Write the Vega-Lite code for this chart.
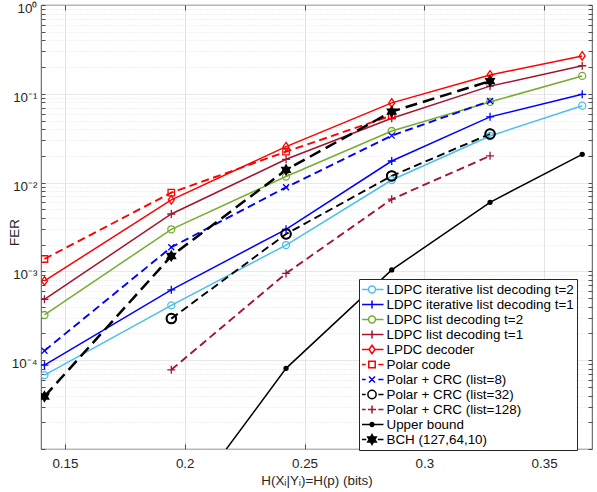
{
  "$schema": "https://vega.github.io/schema/vega-lite/v6.json",
  "width": 551,
  "height": 444,
  "autosize": {"type": "none"},
  "padding": {"left": 41, "top": 5, "right": 5, "bottom": 43},
  "config": {
    "view": {"stroke": "#262626", "strokeWidth": 0.8},
    "font": "Liberation Sans",
    "axis": {
      "labelFont": "Liberation Sans",
      "titleFont": "Liberation Sans",
      "labelFontSize": 13.4,
      "titleFontSize": 13.4,
      "titleFontWeight": "normal",
      "labelColor": "#262626",
      "titleColor": "#262626",
      "tickColor": "#262626",
      "tickWidth": 0.8,
      "domain": false
    }
  },
  "data": {
    "values": [
      {"series": "LDPC iterative list decoding t=2", "h": 0.14144, "fer": 0.000068},
      {"series": "LDPC iterative list decoding t=2", "h": 0.19439, "fer": 0.000415},
      {"series": "LDPC iterative list decoding t=2", "h": 0.24229, "fer": 0.00198},
      {"series": "LDPC iterative list decoding t=2", "h": 0.2864, "fer": 0.0107},
      {"series": "LDPC iterative list decoding t=2", "h": 0.32744, "fer": 0.0335},
      {"series": "LDPC iterative list decoding t=2", "h": 0.36592, "fer": 0.0735},
      {"series": "LDPC iterative list decoding t=1", "h": 0.14144, "fer": 0.000088},
      {"series": "LDPC iterative list decoding t=1", "h": 0.19439, "fer": 0.00062},
      {"series": "LDPC iterative list decoding t=1", "h": 0.24229, "fer": 0.00298},
      {"series": "LDPC iterative list decoding t=1", "h": 0.2864, "fer": 0.0175},
      {"series": "LDPC iterative list decoding t=1", "h": 0.32744, "fer": 0.055},
      {"series": "LDPC iterative list decoding t=1", "h": 0.36592, "fer": 0.0987},
      {"series": "LDPC list decoding t=2", "h": 0.14144, "fer": 0.000323},
      {"series": "LDPC list decoding t=2", "h": 0.19439, "fer": 0.00298},
      {"series": "LDPC list decoding t=2", "h": 0.24229, "fer": 0.0117},
      {"series": "LDPC list decoding t=2", "h": 0.2864, "fer": 0.0381},
      {"series": "LDPC list decoding t=2", "h": 0.32744, "fer": 0.081},
      {"series": "LDPC list decoding t=2", "h": 0.36592, "fer": 0.159},
      {"series": "LDPC list decoding t=1", "h": 0.14144, "fer": 0.000485},
      {"series": "LDPC list decoding t=1", "h": 0.19439, "fer": 0.00443},
      {"series": "LDPC list decoding t=1", "h": 0.24229, "fer": 0.0183},
      {"series": "LDPC list decoding t=1", "h": 0.2864, "fer": 0.053},
      {"series": "LDPC list decoding t=1", "h": 0.32744, "fer": 0.122},
      {"series": "LDPC list decoding t=1", "h": 0.36592, "fer": 0.207},
      {"series": "LPDC decoder", "h": 0.14144, "fer": 0.00078},
      {"series": "LPDC decoder", "h": 0.19439, "fer": 0.0064},
      {"series": "LPDC decoder", "h": 0.24229, "fer": 0.0254},
      {"series": "LPDC decoder", "h": 0.2864, "fer": 0.079},
      {"series": "LPDC decoder", "h": 0.32744, "fer": 0.163},
      {"series": "LPDC decoder", "h": 0.36592, "fer": 0.267},
      {"series": "Polar code", "h": 0.14144, "fer": 0.00138},
      {"series": "Polar code", "h": 0.19439, "fer": 0.0077},
      {"series": "Polar code", "h": 0.24229, "fer": 0.0223},
      {"series": "Polar code", "h": 0.2864, "fer": 0.057},
      {"series": "Polar + CRC (list=8)", "h": 0.14144, "fer": 0.000128},
      {"series": "Polar + CRC (list=8)", "h": 0.19439, "fer": 0.00187},
      {"series": "Polar + CRC (list=8)", "h": 0.24229, "fer": 0.00885},
      {"series": "Polar + CRC (list=8)", "h": 0.2864, "fer": 0.0338},
      {"series": "Polar + CRC (list=8)", "h": 0.32744, "fer": 0.083},
      {"series": "Polar + CRC (list=32)", "h": 0.19439, "fer": 0.000294},
      {"series": "Polar + CRC (list=32)", "h": 0.24229, "fer": 0.00264},
      {"series": "Polar + CRC (list=32)", "h": 0.2864, "fer": 0.0119},
      {"series": "Polar + CRC (list=32)", "h": 0.32744, "fer": 0.0353},
      {"series": "Polar + CRC (list=128)", "h": 0.19439, "fer": 0.000078},
      {"series": "Polar + CRC (list=128)", "h": 0.24229, "fer": 0.00095},
      {"series": "Polar + CRC (list=128)", "h": 0.2864, "fer": 0.0065},
      {"series": "Polar + CRC (list=128)", "h": 0.32744, "fer": 0.02},
      {"series": "Upper bound", "h": 0.19439, "fer": 0.00000145},
      {"series": "Upper bound", "h": 0.24229, "fer": 0.000081},
      {"series": "Upper bound", "h": 0.2864, "fer": 0.00104},
      {"series": "Upper bound", "h": 0.32744, "fer": 0.006},
      {"series": "Upper bound", "h": 0.36592, "fer": 0.0208},
      {"series": "BCH (127,64,10)", "h": 0.14144, "fer": 0.000039},
      {"series": "BCH (127,64,10)", "h": 0.19439, "fer": 0.00149},
      {"series": "BCH (127,64,10)", "h": 0.24229, "fer": 0.0139},
      {"series": "BCH (127,64,10)", "h": 0.2864, "fer": 0.063},
      {"series": "BCH (127,64,10)", "h": 0.32744, "fer": 0.139}
    ]
  },
  "layer": [
    {
      "transform": [{"filter": {"field": "series", "oneOf": ["LDPC iterative list decoding t=2", "LDPC iterative list decoding t=1", "LDPC list decoding t=2", "LDPC list decoding t=1", "LPDC decoder", "Upper bound"]}}],
      "mark": {"type": "line", "clip": true, "strokeWidth": 1.5},
      "encoding": {
        "x": {
          "field": "h", "type": "quantitative",
          "scale": {"domain": [0.14, 0.37], "nice": false, "zero": false},
          "axis": {
            "orient": "bottom",
            "values": [0.15, 0.2, 0.25, 0.3, 0.35],
            "format": ".2~f",
            "labelFlush": false,
            "tickSize": -5,
            "labelPadding": 12,
            "grid": true,
            "gridColor": "#dcdcdc",
            "gridWidth": 0.8,
            "title": "H(Xᵢ|Yᵢ)=H(p) (bits)"
          }
        },
        "y": {
          "field": "fer", "type": "quantitative",
          "scale": {"type": "log", "domain": [0.00001, 1], "nice": false},
          "axis": {
            "orient": "left",
            "values": [0.00001, 0.00002, 0.00003, 0.00004, 0.00005, 0.00006, 0.00007, 0.00008, 0.00009, 0.0001, 0.0002, 0.0003, 0.0004, 0.0005, 0.0006, 0.0007, 0.0008, 0.0009, 0.001, 0.002, 0.003, 0.004, 0.005, 0.006, 0.007, 0.008, 0.009, 0.01, 0.02, 0.03, 0.04, 0.05, 0.06, 0.07, 0.08, 0.09, 0.1, 0.2, 0.3, 0.4, 0.5, 0.6, 0.7, 0.8, 0.9, 1],
            "labelExpr": "datum.value == 1 ? '10⁰' : datum.value == 0.1 ? '10⁻¹' : datum.value == 0.01 ? '10⁻²' : datum.value == 0.001 ? '10⁻³' : datum.value == 0.0001 ? '10⁻⁴' : ''",
            "labelOverlap": false,
            "labelOffset": 3.5,
            "tickSize": -4,
            "labelPadding": 8,
            "grid": true,
            "gridColor": "#dcdcdc",
            "gridWidth": 0.8,
            "gridDash": {"condition": {"test": "indexof([1, 0.1, 0.01, 0.001, 0.0001, 0.00001], datum.value) >= 0", "value": [1, 0]}, "value": [1, 2]},
            "title": "FER",
            "titleX": -34,
            "titleY": 227,
            "titleAngle": -90,
            "titleBaseline": "top",
            "titleAlign": "center"
          }
        },
        "stroke": {
          "field": "series", "type": "nominal", "legend": null,
          "scale": {
            "domain": ["LDPC iterative list decoding t=2", "LDPC iterative list decoding t=1", "LDPC list decoding t=2", "LDPC list decoding t=1", "LPDC decoder", "Polar code", "Polar + CRC (list=8)", "Polar + CRC (list=32)", "Polar + CRC (list=128)", "Upper bound", "BCH (127,64,10)"],
            "range": ["#4DBEEE", "#0000FF", "#77AC30", "#A2142F", "#FF0000", "#FF0000", "#0000FF", "#000000", "#A2142F", "#000000", "#000000"]
          }
        }
      }
    },
    {
      "transform": [{"filter": {"field": "series", "oneOf": ["Polar code", "Polar + CRC (list=8)", "Polar + CRC (list=32)", "Polar + CRC (list=128)"]}}],
      "mark": {"type": "line", "clip": true, "strokeWidth": 1.9, "strokeDash": [8, 4.5]},
      "encoding": {
        "x": {"field": "h", "type": "quantitative", "axis": null},
        "y": {"field": "fer", "type": "quantitative", "axis": null},
        "stroke": {
          "field": "series", "type": "nominal", "legend": null,
          "scale": {
            "domain": ["LDPC iterative list decoding t=2", "LDPC iterative list decoding t=1", "LDPC list decoding t=2", "LDPC list decoding t=1", "LPDC decoder", "Polar code", "Polar + CRC (list=8)", "Polar + CRC (list=32)", "Polar + CRC (list=128)", "Upper bound", "BCH (127,64,10)"],
            "range": ["#4DBEEE", "#0000FF", "#77AC30", "#A2142F", "#FF0000", "#FF0000", "#0000FF", "#000000", "#A2142F", "#000000", "#000000"]
          }
        }
      }
    },
    {
      "transform": [{"filter": "datum.series == 'BCH (127,64,10)'"}],
      "mark": {"type": "line", "clip": true, "stroke": "#000000", "strokeWidth": 2.5, "strokeDash": [12, 6]},
      "encoding": {
        "x": {"field": "h", "type": "quantitative", "axis": null},
        "y": {"field": "fer", "type": "quantitative", "axis": null}
      }
    },
    {
      "mark": {"type": "point", "clip": true, "size": 100, "strokeWidth": 1.3, "opacity": 1},
      "encoding": {
        "x": {
          "field": "h", "type": "quantitative",
          "axis": {"orient": "top", "values": [0.15, 0.2, 0.25, 0.3, 0.35], "labels": false, "tickSize": -5, "grid": false, "title": null}
        },
        "y": {
          "field": "fer", "type": "quantitative",
          "axis": {
            "orient": "right",
            "values": [0.00001, 0.00002, 0.00003, 0.00004, 0.00005, 0.00006, 0.00007, 0.00008, 0.00009, 0.0001, 0.0002, 0.0003, 0.0004, 0.0005, 0.0006, 0.0007, 0.0008, 0.0009, 0.001, 0.002, 0.003, 0.004, 0.005, 0.006, 0.007, 0.008, 0.009, 0.01, 0.02, 0.03, 0.04, 0.05, 0.06, 0.07, 0.08, 0.09, 0.1, 0.2, 0.3, 0.4, 0.5, 0.6, 0.7, 0.8, 0.9, 1],
            "labels": false, "tickSize": -4, "grid": false, "title": null
          }
        },
        "shape": {
          "field": "series", "type": "nominal", "legend": null,
          "scale": {
            "domain": ["LDPC iterative list decoding t=2", "LDPC iterative list decoding t=1", "LDPC list decoding t=2", "LDPC list decoding t=1", "LPDC decoder", "Polar code", "Polar + CRC (list=8)", "Polar + CRC (list=32)", "Polar + CRC (list=128)", "Upper bound", "BCH (127,64,10)"],
            "range": [
              "M0.7,0A0.7,0.7,0,1,1,-0.7,0A0.7,0.7,0,1,1,0.7,0Z",
              "M-0.8,0H0.8M0,-0.8V0.8",
              "M0.7,0A0.7,0.7,0,1,1,-0.7,0A0.7,0.7,0,1,1,0.7,0Z",
              "M-0.8,0H0.8M0,-0.8V0.8",
              "M0,-0.85L0.6,0L0,0.85L-0.6,0Z",
              "M-0.65,-0.65H0.65V0.65H-0.65Z",
              "M-0.6,-0.6L0.6,0.6M-0.6,0.6L0.6,-0.6",
              "M0.95,0A0.95,0.95,0,1,1,-0.95,0A0.95,0.95,0,1,1,0.95,0Z",
              "M-0.8,0H0.8M0,-0.8V0.8",
              "M0.4,0A0.4,0.4,0,1,1,-0.4,0A0.4,0.4,0,1,1,0.4,0Z",
              "M0,-1L0.289,-0.5L0.866,-0.5L0.577,0L0.866,0.5L0.289,0.5L0,1L-0.289,0.5L-0.866,0.5L-0.577,0L-0.866,-0.5L-0.289,-0.5Z"
            ]
          }
        },
        "stroke": {
          "field": "series", "type": "nominal", "legend": null,
          "scale": {
            "domain": ["LDPC iterative list decoding t=2", "LDPC iterative list decoding t=1", "LDPC list decoding t=2", "LDPC list decoding t=1", "LPDC decoder", "Polar code", "Polar + CRC (list=8)", "Polar + CRC (list=32)", "Polar + CRC (list=128)", "Upper bound", "BCH (127,64,10)"],
            "range": ["#4DBEEE", "#0000FF", "#77AC30", "#A2142F", "#FF0000", "#FF0000", "#0000FF", "#000000", "#A2142F", "#000000", "#000000"]
          }
        },
        "fill": {
          "field": "series", "type": "nominal", "legend": null,
          "scale": {
            "domain": ["LDPC iterative list decoding t=2", "LDPC iterative list decoding t=1", "LDPC list decoding t=2", "LDPC list decoding t=1", "LPDC decoder", "Polar code", "Polar + CRC (list=8)", "Polar + CRC (list=32)", "Polar + CRC (list=128)", "Upper bound", "BCH (127,64,10)"],
            "range": ["transparent", "transparent", "transparent", "transparent", "transparent", "transparent", "transparent", "transparent", "transparent", "#000000", "#000000"]
          }
        }
      }
    },
    {
      "transform": [{"filter": "datum.series == 'Polar + CRC (list=32)'"}],
      "mark": {"type": "point", "clip": true, "size": 100, "strokeWidth": 2, "stroke": "#000000", "fill": "transparent", "shape": "M0.95,0A0.95,0.95,0,1,1,-0.95,0A0.95,0.95,0,1,1,0.95,0Z", "opacity": 1},
      "encoding": {
        "x": {"field": "h", "type": "quantitative", "axis": null},
        "y": {"field": "fer", "type": "quantitative", "axis": null}
      }
    },
    {
      "mark": {"type": "point", "clip": true, "size": 529, "strokeWidth": 1.5, "opacity": 0},
      "encoding": {
        "x": {"field": "h", "type": "quantitative", "axis": null},
        "y": {"field": "fer", "type": "quantitative", "axis": null},
        "shape": {
          "field": "series", "type": "nominal",
          "legend": {"orient": "none", "legendX": 318, "legendY": 274, "direction": "vertical", "title": null, "padding": 3, "rowPadding": 0, "clipHeight": 15.0, "symbolOffset": -2.5, "labelOffset": 2, "labelFont": "Liberation Sans", "labelFontSize": 13.4, "labelColor": "#000000", "labelLimit": 400, "fillColor": "#ffffff", "strokeColor": "#262626", "symbolSize": 529, "symbolStrokeWidth": 1.5, "symbolOpacity": 1},
          "scale": {
            "domain": ["LDPC iterative list decoding t=2", "LDPC iterative list decoding t=1", "LDPC list decoding t=2", "LDPC list decoding t=1", "LPDC decoder", "Polar code", "Polar + CRC (list=8)", "Polar + CRC (list=32)", "Polar + CRC (list=128)", "Upper bound", "BCH (127,64,10)"],
            "range": [
              "M-1,0H-0.3M0.3,0H1M0.3,0A0.3,0.3,0,1,1,-0.3,0A0.3,0.3,0,1,1,0.3,0Z",
              "M-1,0H1M0,-0.35V0.35",
              "M-1,0H-0.3M0.3,0H1M0.3,0A0.3,0.3,0,1,1,-0.3,0A0.3,0.3,0,1,1,0.3,0Z",
              "M-1,0H1M0,-0.35V0.35",
              "M-1,0H-0.26M0.26,0H1M0,-0.37L0.26,0L0,0.37L-0.26,0Z",
              "M-1,0H-0.55M0.55,0H1M-0.28,-0.28H0.28V0.28H-0.28Z",
              "M-1,0H-0.55M0.55,0H1M-0.26,-0.26L0.26,0.26M-0.26,0.26L0.26,-0.26",
              "M-1,0H-0.55M0.55,0H1M0.36,0A0.36,0.36,0,1,1,-0.36,0A0.36,0.36,0,1,1,0.36,0Z",
              "M-1,0H-0.55M-0.35,0H0.35M0.55,0H1M0,-0.35V0.35",
              "M-1,0H1M0.17,0A0.17,0.17,0,1,1,-0.17,0A0.17,0.17,0,1,1,0.17,0Z",
              "M-1,0H-0.5M0.5,0H1M0,-0.43L0.125,-0.215L0.372,-0.215L0.248,0L0.372,0.215L0.125,0.215L0,0.43L-0.125,0.215L-0.372,0.215L-0.248,0L-0.372,-0.215L-0.125,-0.215Z"
            ]
          }
        },
        "stroke": {
          "field": "series", "type": "nominal",
          "legend": {"orient": "none", "legendX": 318, "legendY": 274, "direction": "vertical", "title": null, "padding": 3, "rowPadding": 0, "clipHeight": 15.0, "symbolOffset": -2.5, "labelOffset": 2, "labelFont": "Liberation Sans", "labelFontSize": 13.4, "labelColor": "#000000", "labelLimit": 400, "fillColor": "#ffffff", "strokeColor": "#262626", "symbolSize": 529, "symbolStrokeWidth": 1.5, "symbolOpacity": 1},
          "scale": {
            "domain": ["LDPC iterative list decoding t=2", "LDPC iterative list decoding t=1", "LDPC list decoding t=2", "LDPC list decoding t=1", "LPDC decoder", "Polar code", "Polar + CRC (list=8)", "Polar + CRC (list=32)", "Polar + CRC (list=128)", "Upper bound", "BCH (127,64,10)"],
            "range": ["#4DBEEE", "#0000FF", "#77AC30", "#A2142F", "#FF0000", "#FF0000", "#0000FF", "#000000", "#A2142F", "#000000", "#000000"]
          }
        },
        "fill": {
          "field": "series", "type": "nominal",
          "legend": {"orient": "none", "legendX": 318, "legendY": 274, "direction": "vertical", "title": null, "padding": 3, "rowPadding": 0, "clipHeight": 15.0, "symbolOffset": -2.5, "labelOffset": 2, "labelFont": "Liberation Sans", "labelFontSize": 13.4, "labelColor": "#000000", "labelLimit": 400, "fillColor": "#ffffff", "strokeColor": "#262626", "symbolSize": 529, "symbolStrokeWidth": 1.5, "symbolOpacity": 1},
          "scale": {
            "domain": ["LDPC iterative list decoding t=2", "LDPC iterative list decoding t=1", "LDPC list decoding t=2", "LDPC list decoding t=1", "LPDC decoder", "Polar code", "Polar + CRC (list=8)", "Polar + CRC (list=32)", "Polar + CRC (list=128)", "Upper bound", "BCH (127,64,10)"],
            "range": ["transparent", "transparent", "transparent", "transparent", "transparent", "transparent", "transparent", "transparent", "transparent", "#000000", "#000000"]
          }
        }
      }
    }
  ],
  "resolve": {
    "scale": {"shape": "independent", "stroke": "independent", "fill": "independent"},
    "axis": {"x": "independent", "y": "independent"}
  }
}
